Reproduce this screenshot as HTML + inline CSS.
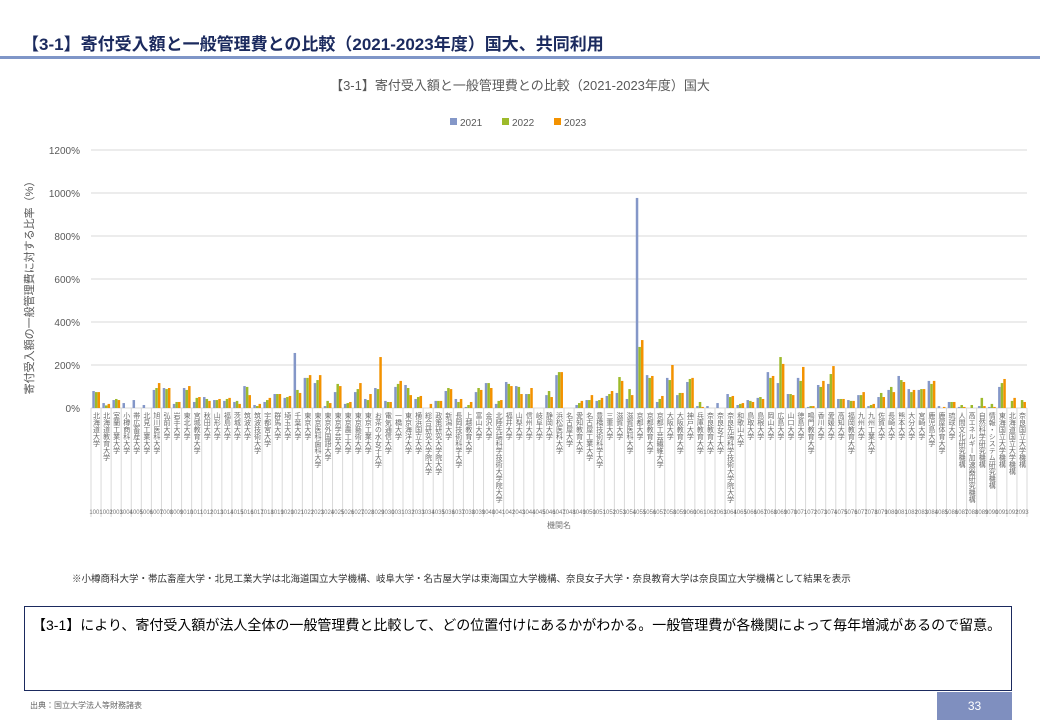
<!DOCTYPE html>
<html><head><meta charset="utf-8"><style>
body{margin:0;width:1040px;height:720px;overflow:hidden;background:#fff;font-family:"Liberation Sans","Noto Sans CJK JP",sans-serif;position:relative}
.t{position:absolute;white-space:nowrap}
</style></head><body>
<div class="t" style="left:22px;top:30px;font-size:17px;font-weight:bold;color:#1b2a5e">【3-1】寄付受入額と一般管理費との比較（2021-2023年度）国大、共同利用</div>
<div style="position:absolute;left:0;top:56px;width:1040px;height:3px;background:#7f96c8"></div>
<svg id="c" width="1040" height="600" style="position:absolute;left:0;top:0" font-family="Liberation Sans, Noto Sans CJK JP, sans-serif"></svg>
<div class="t" style="left:72px;top:571px;font-size:9.5px;color:#333">※小樽商科大学・帯広畜産大学・北見工業大学は北海道国立大学機構、岐阜大学・名古屋大学は東海国立大学機構、奈良女子大学・奈良教育大学は奈良国立大学機構として結果を表示</div>
<div style="position:absolute;left:24px;top:606px;width:986px;height:83px;border:1px solid #1b2a5e"></div>
<div class="t" style="left:32px;top:615px;font-size:14px;color:#000">【3-1】により、寄付受入額が法人全体の一般管理費と比較して、どの位置付けにあるかがわかる。一般管理費が各機関によって毎年増減があるので留意。</div>
<div class="t" style="left:30px;top:700px;font-size:8px;color:#666">出典：国立大学法人等財務諸表</div>
<div style="position:absolute;left:937px;top:692px;width:75px;height:28px;background:#7f8fbf;color:#fff;font-size:12px;text-align:center;line-height:28px">33</div>
<script>
const d=[[79,74,74],[23,12,19],[37,42,37],[23,0,0],[37,0,0],[14,0,0],[84,93,116],[93,88,93],[19,28,28],[93,84,102],[28,47,51],[51,42,33],[37,37,42],[33,42,47],[28,33,19],[102,98,60],[14,9,19],[28,37,47],[65,65,65],[47,51,56],[256,84,70],[140,140,153],[116,130,153],[9,33,23],[74,112,102],[19,23,28],[74,88,116],[42,37,65],[93,88,237],[33,28,28],[98,112,126],[107,93,60],[42,51,56],[0,0,19],[33,33,33],[79,93,88],[42,28,42],[5,14,28],[74,93,84],[116,116,93],[19,33,37],[121,112,102],[102,98,65],[65,65,93],[0,0,0],[60,79,51],[153,167,167],[0,0,0],[14,23,33],[37,37,60],[33,37,47],[56,65,79],[70,144,126],[42,88,60],[977,284,316],[153,140,149],[28,42,56],[140,130,200],[60,70,70],[121,135,140],[9,28,5],[9,0,0],[23,0,0],[65,51,56],[14,19,23],[37,33,28],[47,51,42],[167,140,149],[116,237,205],[65,65,60],[140,126,191],[5,9,9],[107,98,126],[112,158,195],[42,42,42],[37,33,33],[60,60,74],[9,14,19],[51,70,51],[84,98,74],[149,130,121],[88,74,84],[84,88,88],[126,112,126],[9,0,5],[28,28,28],[5,14,5],[0,14,0],[9,47,9],[5,19,5],[98,116,135],[0,33,47],[0,37,28]];
const names="北海道大学,北海道教育大学,室蘭工業大学,小樽商科大学,帯広畜産大学,北見工業大学,旭川医科大学,弘前大学,岩手大学,東北大学,宮城教育大学,秋田大学,山形大学,福島大学,茨城大学,筑波大学,筑波技術大学,宇都宮大学,群馬大学,埼玉大学,千葉大学,東京大学,東京医科歯科大学,東京外国語大学,東京学芸大学,東京農工大学,東京藝術大学,東京工業大学,お茶の水女子大学,電気通信大学,一橋大学,東京海洋大学,横浜国立大学,総合研究大学院大学,政策研究大学院大学,新潟大学,長岡技術科学大学,上越教育大学,富山大学,金沢大学,北陸先端科学技術大学院大学,福井大学,山梨大学,信州大学,岐阜大学,静岡大学,浜松医科大学,名古屋大学,愛知教育大学,名古屋工業大学,豊橋技術科学大学,三重大学,滋賀大学,滋賀医科大学,京都大学,京都教育大学,京都工芸繊維大学,大阪大学,大阪教育大学,神戸大学,兵庫教育大学,奈良教育大学,奈良女子大学,奈良先端科学技術大学院大学,和歌山大学,鳥取大学,島根大学,岡山大学,広島大学,山口大学,徳島大学,鳴門教育大学,香川大学,愛媛大学,高知大学,福岡教育大学,九州大学,九州工業大学,佐賀大学,長崎大学,熊本大学,大分大学,宮崎大学,鹿児島大学,鹿屋体育大学,琉球大学,人間文化研究機構,高エネルギー加速器研究機構,自然科学研究機構,情報・システム研究機構,東海国立大学機構,北海道国立大学機構,奈良国立大学機構".split(",");
let s='';const x0=91,x1=1027,y0=408,k=21.5/100,n=93,w=(x1-x0)/n,col=["#8497c8","#9dba2b","#f39200"];
s+=`<text x="520" y="90" font-size="13" fill="#595959" text-anchor="middle">【3-1】寄付受入額と一般管理費との比較（2021-2023年度）国大</text>`;
[["2021",450],["2022",502],["2023",554]].forEach((l,i)=>{s+=`<rect x="${l[1]}" y="118" width="7" height="7" fill="${col[i]}"/><text x="${l[1]+10}" y="126" font-size="10" fill="#595959">${l[0]}</text>`});
for(let v=0;v<=1200;v+=200){const y=y0-v*k;s+=`<line x1="${x0}" x2="${x1}" y1="${y}" y2="${y}" stroke="#d9d9d9"/><text x="80" y="${y+4}" font-size="10" fill="#595959" text-anchor="end">${v}%</text>`}
s+=`<text transform="translate(33,285) rotate(-90)" font-size="11" fill="#595959" text-anchor="middle">寄付受入額の一般管理費に対する比率（%）</text>`;
for(let i=0;i<=n;i++){const x=x0+i*w;s+=`<line x1="${x}" x2="${x}" y1="${y0}" y2="517" stroke="#d9d9d9"/>`}
for(let i=0;i<n;i++){const cx=x0+i*w;d[i].forEach((v,j)=>{if(v>0){const h=v*k;s+=`<rect x="${cx+1.3+j*2.6}" y="${y0-h}" width="2.5" height="${h}" fill="${col[j]}"/>`}});
const nm=names[i]||"";s+=`<text x="${cx+w/2}" y="${y0+4}" font-size="7" fill="#6a6a6a" style="writing-mode:vertical-rl;glyph-orientation-vertical:0">${nm}</text>`;
s+=`<text x="${cx+w/2}" y="514" font-size="6" fill="#777" text-anchor="middle">${1001+i}</text>`}
s+=`<text x="559" y="528" font-size="8" fill="#777" text-anchor="middle">機関名</text>`;
document.getElementById('c').innerHTML=s;
</script>
</body></html>
